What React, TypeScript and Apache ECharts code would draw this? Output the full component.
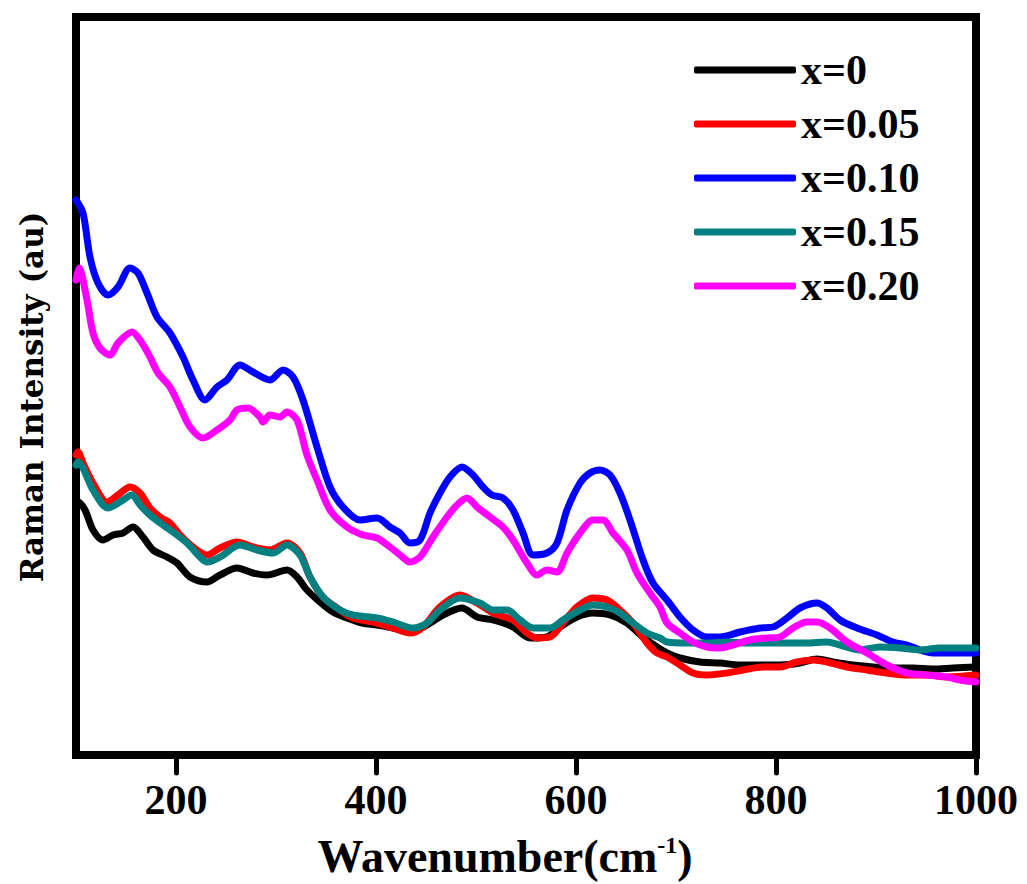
import React, { useEffect, useRef } from "react";
import * as echarts from "echarts";

// [wavenumber (cm-1), intensity (a.u.)]
const seriesNames = ["x=0", "x=0.05", "x=0.10", "x=0.15", "x=0.20"];
const seriesColors = ["#000000", "#FF0000", "#0000FF", "#008080", "#FF00FF"];
const xTicks = [200, 400, 600, 800, 1000];

const dataX000 = [
  [100, 253], [102, 253], [109, 245], [117, 225], [127, 215], [137, 220], [147, 222], [157, 228],
  [167, 218], [177, 205], [191, 198], [201, 192], [214, 178], [231, 173], [244, 180], [261, 187],
  [277, 182], [291, 180], [311, 185], [321, 178], [331, 165], [344, 153], [357, 143], [371, 137],
  [386, 132], [401, 130], [417, 127], [434, 123], [451, 130], [467, 140], [486, 147], [501, 138],
  [517, 135], [537, 128], [554, 117], [571, 118], [584, 128], [601, 138], [617, 142], [634, 140],
  [651, 132], [667, 118], [681, 108], [691, 102], [704, 97], [724, 93], [744, 92], [764, 90],
  [784, 90], [804, 90], [824, 92], [841, 96], [857, 93], [877, 90], [897, 88], [917, 87],
  [937, 87], [957, 86], [977, 87], [1000, 88],
];

const dataX005 = [
  [100, 300], [102, 303], [107, 292], [117, 272], [131, 253], [142, 260], [154, 268], [164, 262],
  [174, 247], [184, 238], [194, 232], [204, 220], [217, 208], [231, 200], [244, 207], [261, 213],
  [277, 208], [294, 205], [311, 212], [324, 202], [334, 178], [347, 158], [364, 145], [377, 137],
  [401, 132], [417, 127], [434, 122], [447, 128], [464, 148], [484, 160], [501, 152], [517, 142],
  [537, 135], [551, 122], [561, 117], [574, 118], [587, 132], [601, 148], [617, 157], [631, 155],
  [644, 145], [657, 132], [671, 112], [681, 102], [691, 98], [704, 90], [717, 82], [731, 80],
  [751, 82], [767, 85], [787, 88], [804, 88], [821, 93], [837, 95], [851, 93], [871, 88],
  [891, 85], [911, 82], [931, 80], [951, 80], [971, 78], [1000, 80],
];

const dataX010 = [
  [100, 555], [107, 542], [114, 498], [122, 472], [132, 460], [142, 468], [154, 487], [162, 482],
  [171, 462], [181, 438], [194, 422], [207, 398], [217, 375], [229, 355], [241, 368], [251, 375],
  [264, 390], [277, 383], [294, 375], [307, 385], [317, 378], [327, 355], [341, 308], [354, 268],
  [367, 248], [384, 235], [401, 237], [414, 228], [424, 222], [434, 212], [444, 215], [454, 242],
  [464, 262], [474, 278], [486, 288], [497, 280], [507, 268], [516, 260], [527, 257], [537, 245],
  [547, 222], [557, 200], [571, 202], [581, 212], [591, 245], [604, 272], [614, 282], [624, 285],
  [634, 280], [644, 262], [654, 235], [667, 195], [677, 172], [691, 155], [704, 138], [717, 125],
  [731, 118], [744, 118], [764, 123], [784, 127], [797, 128], [811, 137], [824, 147], [841, 152],
  [851, 147], [864, 135], [881, 127], [901, 120], [917, 113], [931, 110], [944, 105], [957, 102],
  [1000, 102],
];

const dataX015 = [
  [100, 290], [102, 293], [107, 287], [117, 265], [132, 247], [144, 253], [156, 260], [164, 250],
  [174, 240], [187, 230], [197, 223], [211, 212], [224, 198], [231, 193], [244, 198], [264, 210],
  [281, 205], [297, 202], [311, 210], [324, 200], [334, 178], [347, 158], [364, 145], [377, 140],
  [401, 137], [417, 133], [437, 127], [451, 132], [464, 145], [484, 157], [504, 152], [517, 145],
  [531, 145], [544, 135], [557, 127], [574, 127], [587, 135], [604, 145], [617, 150], [631, 148],
  [644, 142], [657, 132], [671, 122], [684, 117], [691, 113], [711, 112], [731, 112], [751, 113],
  [771, 112], [791, 112], [811, 112], [831, 112], [851, 113], [864, 110], [884, 105], [904, 108],
  [924, 107], [944, 105], [964, 107], [1000, 107],
];

const dataX020 = [
  [100, 475], [103, 487], [111, 455], [117, 422], [124, 407], [134, 400], [142, 412], [156, 423],
  [164, 415], [174, 398], [182, 382], [194, 368], [204, 348], [214, 328], [227, 317], [241, 325],
  [254, 335], [261, 345], [272, 347], [284, 338], [287, 333], [294, 340], [304, 338], [311, 343],
  [321, 335], [331, 300], [341, 275], [354, 245], [371, 228], [387, 220], [401, 217], [414, 208],
  [424, 200], [434, 193], [444, 198], [457, 218], [471, 238], [481, 250], [491, 257], [501, 248],
  [514, 238], [527, 228], [537, 215], [551, 192], [561, 180], [571, 185], [581, 183], [591, 202],
  [604, 222], [617, 235], [627, 235], [637, 222], [651, 205], [661, 182], [674, 162], [684, 148],
  [691, 132], [704, 122], [717, 113], [731, 108], [744, 107], [757, 110], [774, 115], [791, 117],
  [804, 118], [817, 127], [831, 133], [841, 133], [854, 127], [871, 113], [891, 102], [911, 90],
  [931, 82], [951, 80], [971, 78], [984, 75], [1000, 73],
];

const allData = [dataX000, dataX005, dataX010, dataX015, dataX020];

const SERIF = "Liberation Serif";

export default function App() {
  const ref = useRef<HTMLDivElement>(null);

  useEffect(() => {
    if (!ref.current) return;
    const chart = echarts.init(ref.current, null, { renderer: "svg" });
    chart.setOption({
      animation: false,
      backgroundColor: "#ffffff",
      grid: {
        left: 76,
        top: 17,
        width: 900,
        height: 738,
        show: true,
        borderColor: "#000",
        borderWidth: 8,
        backgroundColor: "transparent",
      },
      legend: {
        orient: "vertical",
        left: 689,
        top: 44,
        itemWidth: 102,
        itemHeight: 7,
        itemGap: 12,
        icon: "roundRect",
        data: seriesNames,
        textStyle: {
          fontFamily: SERIF,
          fontWeight: "bold",
          fontSize: 42,
          lineHeight: 42,
          color: "#000",
        },
      },
      xAxis: {
        type: "value",
        min: 100,
        max: 1000,
        axisLine: { show: true, lineStyle: { color: "#000", width: 8, cap: "round" } },
        axisTick: {
          show: true,
          inside: false,
          length: 18,
          customValues: xTicks,
          lineStyle: { color: "#000", width: 5, cap: "round" },
        },
        axisLabel: {
          show: true,
          customValues: xTicks,
          formatter: (v: number) => String(v),
          margin: 24,
          fontFamily: SERIF,
          fontWeight: "bold",
          fontSize: 42,
          color: "#000",
        },
        splitLine: { show: false },
      },
      yAxis: {
        type: "value",
        min: 0,
        max: 738,
        axisLine: { show: true, lineStyle: { color: "#000", width: 8, cap: "round" } },
        axisTick: { show: false },
        axisLabel: { show: false },
        splitLine: { show: false },
      },
      graphic: [
        {
          type: "text",
          x: 505,
          y: 856,
          style: {
            text: "{a|Wavenumber(cm}{s|-1}{a|)}",
            align: "center",
            verticalAlign: "middle",
            rich: {
              a: {
                fontFamily: SERIF,
                fontWeight: "bold",
                fontSize: 46,
                lineHeight: 46,
                fill: "#000",
              },
              s: {
                fontFamily: SERIF,
                fontWeight: "bold",
                fontSize: 24,
                lineHeight: 24,
                verticalAlign: "top",
                fill: "#000",
              },
            },
          },
        },
        {
          type: "text",
          x: 32,
          y: 397,
          rotation: Math.PI / 2,
          style: {
            text: "Raman Intensity (au)",
            align: "center",
            verticalAlign: "middle",
            fontFamily: "DejaVu Serif",
            fontWeight: "bold",
            fontSize: 31,
            fill: "#000",
          },
        },
      ],
      series: allData.map((d, i) => ({
        name: seriesNames[i],
        type: "line",
        data: d,
        showSymbol: false,
        smooth: 0.3,
        z: 2 + i,
        lineStyle: { color: seriesColors[i], width: 7, cap: "round", join: "round" },
        itemStyle: { color: seriesColors[i] },
      })),
    });
    return () => chart.dispose();
  }, []);

  return (
    <div
      ref={ref}
      style={{ position: "fixed", left: 0, top: 0, width: 1027, height: 884, background: "#fff" }}
    />
  );
}
